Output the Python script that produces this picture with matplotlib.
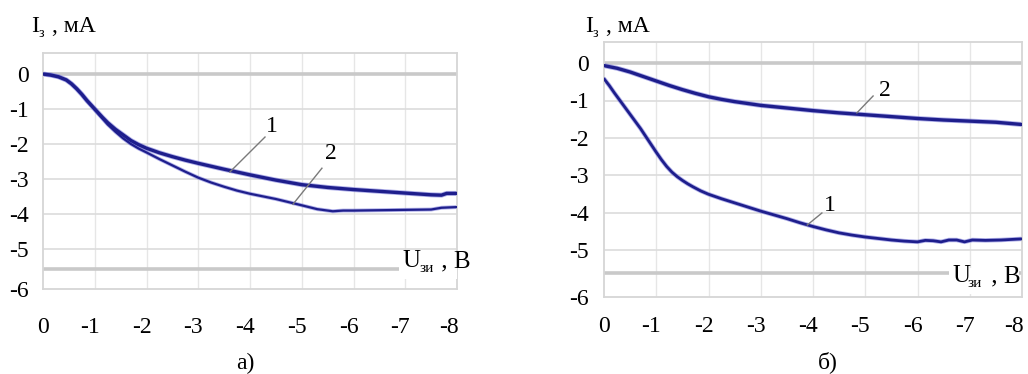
import matplotlib
matplotlib.use("Agg")
import matplotlib.pyplot as plt
from matplotlib.transforms import ScaledTranslation
from matplotlib.patches import Rectangle

# ---------------- data ----------------
x_ticks = [0, -1, -2, -3, -4, -5, -6, -7, -8]
x_tick_labels = ['0', '-1', '-2', '-3', '-4', '-5', '-6', '-7', '-8']
y_tick_labels = ['0', '-1', '-2', '-3', '-4', '-5', '-6']

# panel a)
a1_x = [0, -0.15, -0.3, -0.45, -0.55, -0.65, -0.75, -0.85, -0.95, -1.05, -1.15, -1.25,
        -1.4, -1.55, -1.7, -1.85, -2.0, -2.25, -2.5, -2.75, -3.0, -3.5, -4.0, -4.5,
        -5.0, -5.5, -6.0, -6.5, -7.0, -7.5, -7.7, -7.8, -8.0]
a1_y = [0, -0.03, -0.08, -0.17, -0.28, -0.42, -0.58, -0.76, -0.92, -1.08, -1.24, -1.39,
        -1.58, -1.74, -1.9, -2.02, -2.12, -2.25, -2.36, -2.46, -2.55, -2.72, -2.88, -3.03,
        -3.16, -3.24, -3.3, -3.35, -3.4, -3.45, -3.46, -3.41, -3.41]
a2_x = [0, -0.15, -0.3, -0.45, -0.55, -0.65, -0.75, -0.85, -0.95, -1.05, -1.15, -1.25,
        -1.4, -1.55, -1.7, -1.85, -2.0, -2.25, -2.5, -2.75, -3.0, -3.25, -3.5, -3.75,
        -4.0, -4.5, -5.0, -5.3, -5.6, -5.8, -6.0, -6.5, -7.0, -7.5, -7.7, -8.0]
a2_y = [0, -0.03, -0.08, -0.17, -0.28, -0.42, -0.58, -0.76, -0.93, -1.1, -1.27, -1.44,
        -1.65, -1.84, -2.0, -2.13, -2.24, -2.43, -2.61, -2.79, -2.96, -3.1, -3.22, -3.33,
        -3.42, -3.57, -3.75, -3.86, -3.92, -3.9, -3.9, -3.89, -3.88, -3.87, -3.82, -3.8]

# panel б)
b1_x = [0, -0.1, -0.2, -0.3, -0.4, -0.5, -0.6, -0.7, -0.8, -0.9, -1.0, -1.1, -1.2, -1.3,
        -1.4, -1.5, -1.6, -1.7, -1.85, -2.0, -2.25, -2.5, -2.75, -3.0, -3.25, -3.5,
        -3.75, -4.0, -4.25, -4.5, -4.75, -5.0, -5.25, -5.5, -5.75, -6.0, -6.15, -6.3,
        -6.45, -6.6, -6.75, -6.9, -7.05, -7.3, -7.6, -8.0]
b1_y = [-0.42, -0.6, -0.8, -0.99, -1.18, -1.37, -1.56, -1.75, -1.96, -2.17, -2.38, -2.58,
        -2.76, -2.91, -3.03, -3.13, -3.22, -3.3, -3.41, -3.5, -3.62, -3.73, -3.84, -3.95,
        -4.05, -4.15, -4.26, -4.36, -4.45, -4.53, -4.59, -4.64, -4.68, -4.72, -4.75,
        -4.77, -4.73, -4.74, -4.77, -4.72, -4.72, -4.77, -4.72, -4.73, -4.72, -4.69]
b2_x = [0, -0.25, -0.5, -0.75, -1.0, -1.25, -1.5, -1.75, -2.0, -2.25, -2.5, -2.75, -3.0,
        -3.5, -4.0, -4.5, -5.0, -5.5, -6.0, -6.5, -7.0, -7.5, -8.0]
b2_y = [-0.07, -0.14, -0.24, -0.36, -0.48, -0.6, -0.71, -0.81, -0.9, -0.97, -1.03, -1.08,
        -1.13, -1.2, -1.27, -1.33, -1.38, -1.43, -1.48, -1.52, -1.55, -1.58, -1.64]

# ---------------- styling ----------------
W, H = 1028, 374
SERIF = ['Liberation Serif', 'DejaVu Serif']
plt.rcParams['font.family'] = SERIF
LINE = '#1e1e8c'
HALO = '#6f6fd8'
GRID = '#dcdcdc'
VGRID = '#e6e6e6'
THICK = '#c9c9c9'
FS = 17

fig = plt.figure(figsize=(W / 100, H / 100), dpi=100)
fig.patch.set_facecolor('white')


def fx(px):
    return px / W


def fy(py):
    return 1 - py / H


def make_axes(left, right, top, bottom, ytop, ybot, thick_y, xpad, ypad):
    ax = fig.add_axes([fx(left), fy(bottom), fx(right - left), (bottom - top) / H])
    ax.set_xlim(0, -8)
    ax.set_ylim(ybot, ytop)
    ax.set_xticks(x_ticks)
    ax.set_xticklabels(x_tick_labels, fontsize=FS)
    ax.set_yticks([0, -1, -2, -3, -4, -5, ybot])
    ax.set_yticklabels(y_tick_labels, fontsize=FS)
    ax.tick_params(length=0, pad=0)
    ax.tick_params(axis='x', pad=xpad)
    ax.tick_params(axis='y', pad=ypad)
    # Excel-like placement: digit centred on the gridline, minus sign sticking out
    for i, t in enumerate(ax.get_xticklabels()):
        dx = 0 if i == 0 else (-8 if i == len(x_ticks) - 1 else -5)
        t.set_transform(t.get_transform() + ScaledTranslation(dx / 100, 0, fig.dpi_scale_trans))
    for s in ax.spines.values():
        s.set_color('#d6d6d6')
        s.set_linewidth(1.3)
    for xv in x_ticks[1:-1]:
        ax.axvline(xv, color=VGRID, lw=1.0, zorder=0)
    for yv in [-1, -2, -3, -4, -5]:
        ax.axhline(yv, color=GRID, lw=1.2, zorder=0)
    ax.axhline(0, color=THICK, lw=2.6, zorder=0)
    ax.axhline(thick_y, color=THICK, lw=2.6, zorder=0)
    return ax


def curve(ax, xs, ys, lw):
    ax.plot(xs, ys, color=HALO, lw=lw + 1.2, alpha=0.55, solid_capstyle='round',
            solid_joinstyle='round', zorder=2)
    ax.plot(xs, ys, color=LINE, lw=lw, solid_capstyle='round', solid_joinstyle='round',
            zorder=3)


def label(ax, txt, xt, yt, x0, y0, x1, y1):
    ax.plot([x0, x1], [y0, y1], color='#7a7a7a', lw=1.0, zorder=4)
    ax.text(xt, yt, txt, fontsize=FS, ha='center', va='center', zorder=5)


# panel a
axa = make_axes(43, 457, 53, 289, 0.6, -6.14, -5.57, 20, 10)
curve(axa, a2_x, a2_y, 1.6)
curve(axa, a1_x, a1_y, 2.4)
label(axa, '1', -4.43, -1.51, -4.29, -1.8, -3.61, -2.8)
label(axa, '2', -5.57, -2.26, -5.39, -2.69, -4.83, -3.72)

# panel b
axb = make_axes(604, 1022, 42, 297, 0.56, -6.24, -5.6, 14, 11)
curve(axb, b1_x, b1_y, 2.0)
curve(axb, b2_x, b2_y, 2.4)
label(axb, '2', -5.38, -0.72, -5.15, -0.88, -4.84, -1.33)
label(axb, '1', -4.33, -3.79, -4.17, -4.0, -3.89, -4.32)


def ylabel(x_i, x_sub, x_rest):
    fig.text(fx(x_i), fy(32), 'I', fontsize=FS, va='baseline', ha='left')
    fig.text(fx(x_sub), fy(37), 'з', fontsize=10, va='baseline', ha='left')
    fig.text(fx(x_rest), fy(32), ', мА', fontsize=FS, va='baseline', ha='left')


def xlabel(x_u, x_sub, x_rest, base, box_w):
    fig.patches.append(Rectangle((fx(x_u - 3), fy(base + 12)), box_w / W, 26 / H,
                                 transform=fig.transFigure, facecolor='white',
                                 edgecolor='none', zorder=2))
    fig.text(fx(x_u), fy(base), 'U', fontsize=FS + 1, va='baseline', ha='left', zorder=3)
    fig.text(fx(x_sub), fy(base + 5), 'зи', fontsize=11, va='baseline', ha='left', zorder=3)
    fig.text(fx(x_rest), fy(base), ' , В', fontsize=FS + 1, va='baseline', ha='left', zorder=3)


ylabel(31, 39, 52)
ylabel(585, 593, 606)
xlabel(402, 420, 435, 267, 58)
xlabel(952, 968, 985, 282, 70)

fig.text(fx(245), fy(363), 'а)', fontsize=FS, ha='center', va='center')
fig.text(fx(828), fy(362), 'б)', fontsize=FS, ha='center', va='center')

fig.savefig('out.png', dpi=100, facecolor='white')
